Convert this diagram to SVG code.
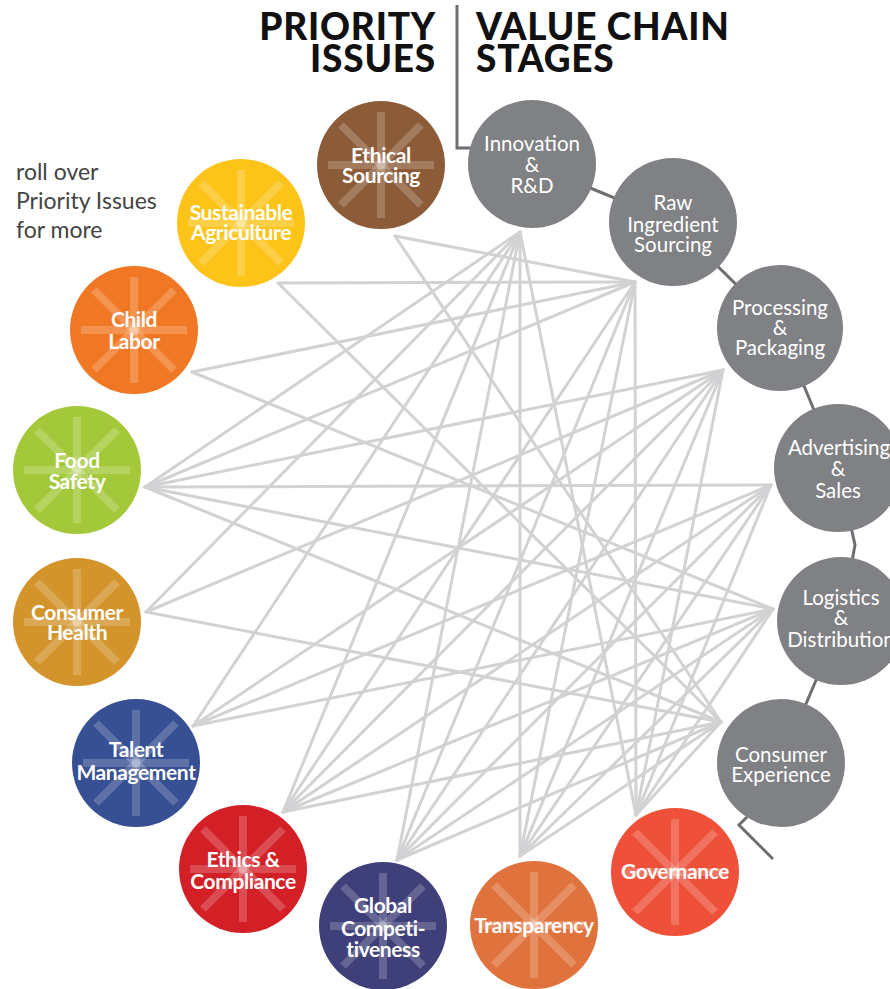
<svg xmlns="http://www.w3.org/2000/svg" width="890" height="989" viewBox="0 0 890 989">
<style>
.bg{fill:#ffffff}
.title{font-family:Lato,"Liberation Sans",sans-serif;font-weight:900;font-size:37px;fill:#111111;letter-spacing:0.8px}
.hint{font-family:Lato,"Liberation Sans",sans-serif;font-size:23px;fill:#444444}
.conn line{stroke:#d1d2d4;stroke-width:3;stroke-linecap:round}
.chain{stroke:#6d6e71;stroke-width:3;fill:none}
.stage circle{fill:#808184}
.stage text{font-family:Lato,"Liberation Sans",sans-serif;font-size:20.5px;fill:#ffffff;text-anchor:middle}
.issue text{font-family:Lato,"Liberation Sans",sans-serif;font-weight:700;font-size:21px;fill:#ffffff;text-anchor:middle;letter-spacing:-0.4px}
.burst{stroke:#ffffff;stroke-opacity:0.2;stroke-width:8}
</style>
<defs>
<g id="burst" class="burst">
<line x1="0" y1="-53" x2="0" y2="53"/>
<line x1="-53" y1="0" x2="53" y2="0"/>
<line x1="-40" y1="-40" x2="40" y2="40"/>
<line x1="-40" y1="40" x2="40" y2="-40"/>
</g>
</defs>
<rect class="bg" x="0" y="0" width="890" height="989"/>
<g id="titles">
<text class="title" x="436" y="40" text-anchor="end">PRIORITY</text>
<text class="title" x="436" y="72" text-anchor="end">ISSUES</text>
<text class="title" x="476" y="40">VALUE CHAIN</text>
<text class="title" x="476" y="72">STAGES</text>
<text class="hint" x="16" y="180">roll over</text>
<text class="hint" x="16" y="209">Priority Issues</text>
<text class="hint" x="16" y="238">for more</text>
</g>
<g id="chain">
<polyline class="chain" points="457,5 457,148 500,148"/>
<polyline class="chain" points="532,164 673,222 780,328 838,468 855,545 841,621 781,763"/>
<polyline class="chain" points="747,817 739,825 773,859"/>
</g>
<g id="connectors" class="conn">
<line x1="395" y1="236" x2="635" y2="282"/>
<line x1="395" y1="236" x2="721" y2="722"/>
<line x1="278" y1="283" x2="635" y2="282"/>
<line x1="278" y1="283" x2="721" y2="722"/>
<line x1="192" y1="372" x2="635" y2="282"/>
<line x1="192" y1="372" x2="773" y2="609"/>
<line x1="145" y1="487" x2="520" y2="232"/>
<line x1="145" y1="487" x2="635" y2="282"/>
<line x1="145" y1="487" x2="723" y2="370"/>
<line x1="145" y1="487" x2="771" y2="485"/>
<line x1="145" y1="487" x2="773" y2="609"/>
<line x1="145" y1="487" x2="721" y2="722"/>
<line x1="146" y1="612" x2="520" y2="232"/>
<line x1="146" y1="612" x2="723" y2="370"/>
<line x1="146" y1="612" x2="721" y2="722"/>
<line x1="193" y1="726" x2="520" y2="232"/>
<line x1="193" y1="726" x2="723" y2="370"/>
<line x1="193" y1="726" x2="771" y2="485"/>
<line x1="193" y1="726" x2="773" y2="609"/>
<line x1="283" y1="812" x2="520" y2="232"/>
<line x1="283" y1="812" x2="635" y2="282"/>
<line x1="283" y1="812" x2="723" y2="370"/>
<line x1="283" y1="812" x2="771" y2="485"/>
<line x1="283" y1="812" x2="773" y2="609"/>
<line x1="283" y1="812" x2="721" y2="722"/>
<line x1="397" y1="860" x2="520" y2="232"/>
<line x1="397" y1="860" x2="635" y2="282"/>
<line x1="397" y1="860" x2="723" y2="370"/>
<line x1="397" y1="860" x2="771" y2="485"/>
<line x1="397" y1="860" x2="773" y2="609"/>
<line x1="397" y1="860" x2="721" y2="722"/>
<line x1="520" y1="856" x2="520" y2="232"/>
<line x1="520" y1="856" x2="635" y2="282"/>
<line x1="520" y1="856" x2="723" y2="370"/>
<line x1="520" y1="856" x2="771" y2="485"/>
<line x1="520" y1="856" x2="773" y2="609"/>
<line x1="520" y1="856" x2="721" y2="722"/>
<line x1="636" y1="815" x2="520" y2="232"/>
<line x1="636" y1="815" x2="635" y2="282"/>
<line x1="636" y1="815" x2="723" y2="370"/>
<line x1="636" y1="815" x2="771" y2="485"/>
<line x1="636" y1="815" x2="773" y2="609"/>
<line x1="636" y1="815" x2="721" y2="722"/>
</g>
<g id="stage-innovation" class="stage"><circle cx="532" cy="164" r="64"/><text x="532" y="151">Innovation</text><text x="532" y="172">&amp;</text><text x="532" y="193">R&amp;D</text></g>
<g id="stage-raw" class="stage"><circle cx="673" cy="222" r="64"/><text x="673" y="210">Raw</text><text x="673" y="232">Ingredient</text><text x="673" y="252">Sourcing</text></g>
<g id="stage-processing" class="stage"><circle cx="780" cy="328" r="63"/><text x="780" y="315">Processing</text><text x="780" y="335">&amp;</text><text x="780" y="355">Packaging</text></g>
<g id="stage-advertising" class="stage"><circle cx="838" cy="468" r="64"/><text x="839" y="455">Advertising</text><text x="838" y="476">&amp;</text><text x="838" y="498">Sales</text></g>
<g id="stage-logistics" class="stage"><circle cx="841" cy="621" r="64"/><text x="841" y="605">Logistics</text><text x="841" y="625">&amp;</text><text x="841" y="647">Distribution</text></g>
<g id="stage-consumer" class="stage"><circle cx="781" cy="763" r="64"/><text x="781" y="762">Consumer</text><text x="781" y="782">Experience</text></g>
<g id="issue-ethical" class="issue"><circle cx="381" cy="165" r="64" fill="#8c5b38"/><use href="#burst" x="381" y="165"/><text x="381" y="163">Ethical</text><text x="381" y="183">Sourcing</text></g>
<g id="issue-sustainable" class="issue"><circle cx="241" cy="223" r="64" fill="#fcc419"/><use href="#burst" x="241" y="223"/><text x="241" y="220">Sustainable</text><text x="241" y="240">Agriculture</text></g>
<g id="issue-child" class="issue"><circle cx="134" cy="330" r="64" fill="#f07824"/><use href="#burst" x="134" y="330"/><text x="134" y="327">Child</text><text x="134" y="349">Labor</text></g>
<g id="issue-food" class="issue"><circle cx="77" cy="470" r="64" fill="#a3c93a"/><use href="#burst" x="77" y="470"/><text x="77" y="468">Food</text><text x="77" y="489">Safety</text></g>
<g id="issue-health" class="issue"><circle cx="77" cy="622" r="64" fill="#d3942c"/><use href="#burst" x="77" y="622"/><text x="77" y="620">Consumer</text><text x="77" y="640">Health</text></g>
<g id="issue-talent" class="issue"><circle cx="136" cy="763" r="64" fill="#374f93"/><use href="#burst" x="136" y="763"/><text x="136" y="757">Talent</text><text x="136" y="780">Management</text></g>
<g id="issue-ethics" class="issue"><circle cx="243" cy="869" r="64" fill="#d32027"/><use href="#burst" x="243" y="869"/><text x="243" y="867">Ethics &amp;</text><text x="243" y="889">Compliance</text></g>
<g id="issue-global" class="issue"><circle cx="383" cy="926" r="64" fill="#3f3f79"/><use href="#burst" x="383" y="926"/><text x="383" y="913">Global</text><text x="383" y="936">Competi-</text><text x="383" y="957">tiveness</text></g>
<g id="issue-transparency" class="issue"><circle cx="534" cy="925" r="64" fill="#e0733d"/><use href="#burst" x="534" y="925"/><text x="534" y="933">Transparency</text></g>
<g id="issue-governance" class="issue"><circle cx="675" cy="872" r="64" fill="#ee503a"/><use href="#burst" x="675" y="872"/><text x="675" y="879">Governance</text></g>
</svg>
